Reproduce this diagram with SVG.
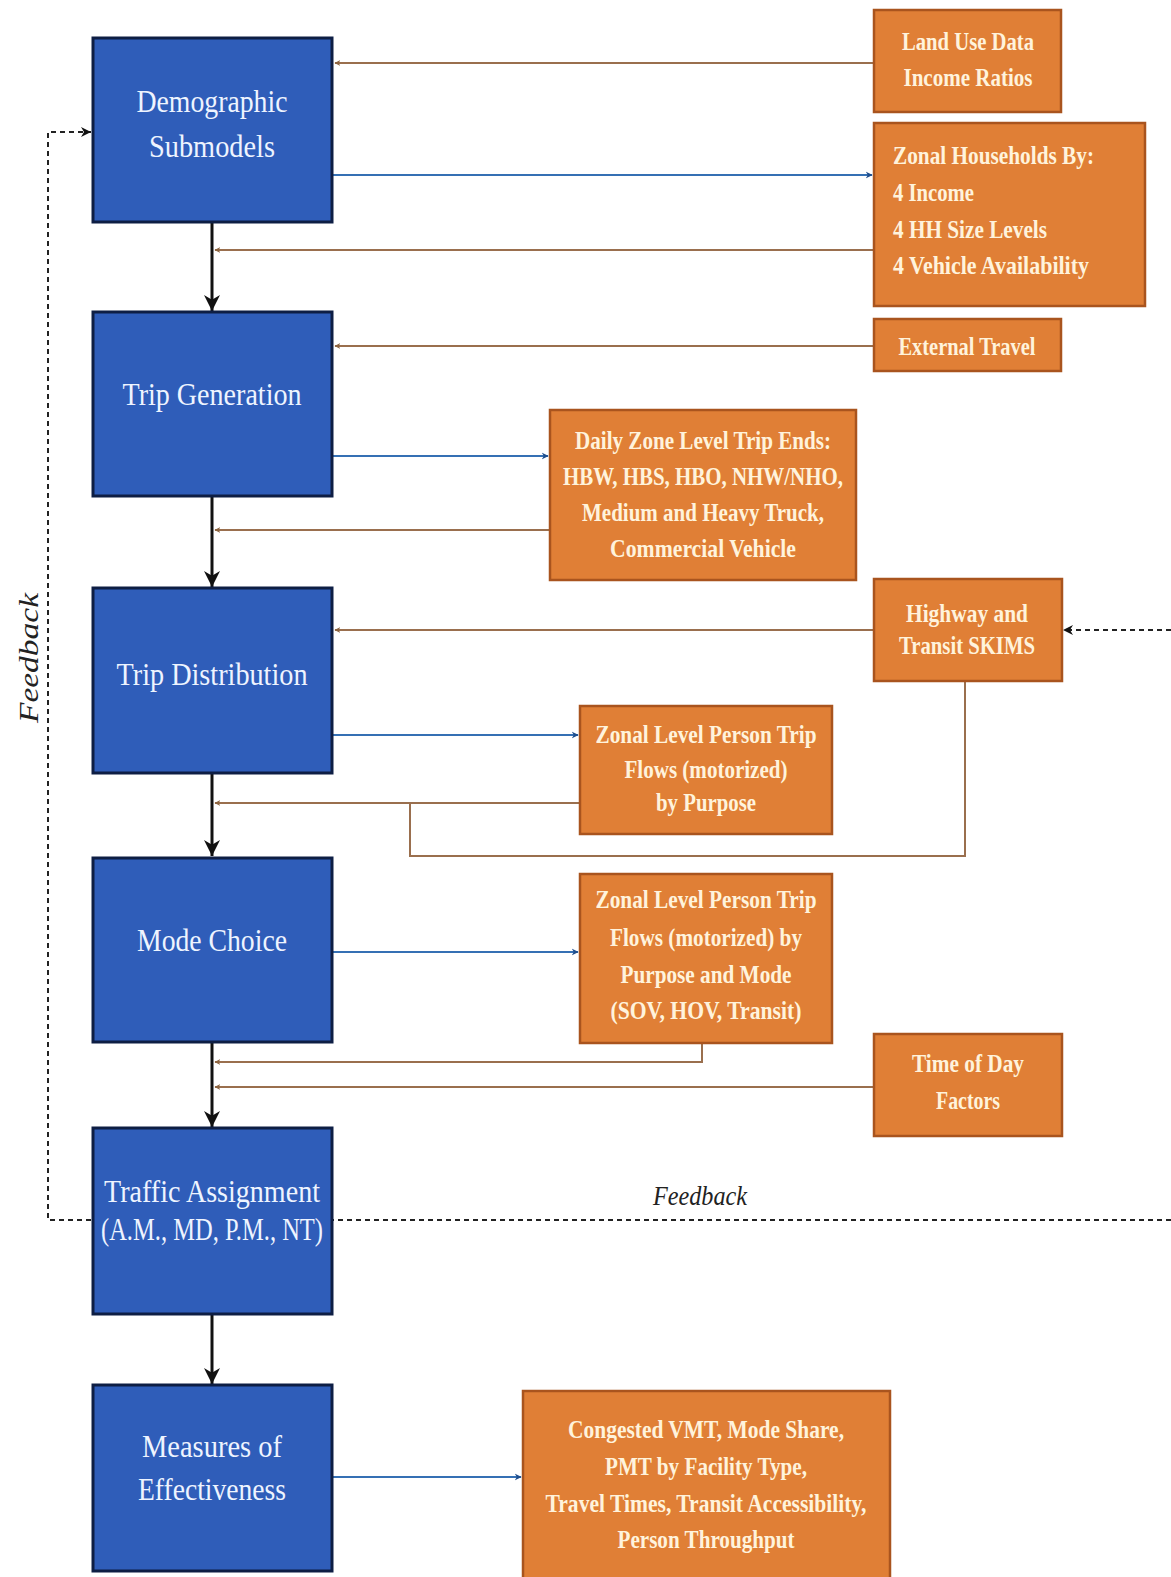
<svg xmlns="http://www.w3.org/2000/svg" width="1171" height="1577" viewBox="0 0 1171 1577">
<style>
.bx{fill:#2F5DB9;stroke:#0E1E44;stroke-width:3}
.ob{fill:#E07F36;stroke:#A9541E;stroke-width:2.5}
.bt{font-family:"Liberation Serif",serif;font-size:32px;fill:#EEF4FF;text-anchor:middle}
.ot{font-family:"Liberation Serif",serif;font-size:26px;font-weight:bold;fill:#FFF3DC;text-anchor:middle}
.ol{font-family:"Liberation Serif",serif;font-size:26px;font-weight:bold;fill:#FFF3DC}
.br{stroke:#9A6F4E;stroke-width:2;fill:none}
.bl{stroke:#3570B4;stroke-width:2;fill:none}
.bk{stroke:#111;stroke-width:3;fill:none}
.fd{stroke:#222;stroke-width:2;fill:none;stroke-dasharray:5,4}
.fb{font-family:"Liberation Serif",serif;font-style:italic;font-size:28px;fill:#222}
</style>
<defs>
<marker id="mbr" viewBox="0 0 10 10" refX="9" refY="5" markerWidth="6" markerHeight="6" orient="auto" markerUnits="userSpaceOnUse">
<path d="M0,0 L10,5 L0,10 L3,5 z" fill="#8C6440"/></marker>
<marker id="mbl" viewBox="0 0 10 10" refX="9" refY="5" markerWidth="7" markerHeight="8" orient="auto" markerUnits="userSpaceOnUse">
<path d="M0,0 L10,5 L0,10 L3,5 z" fill="#1F4E8C"/></marker>
<marker id="mbk" viewBox="0 0 10 10" refX="10" refY="5" markerWidth="18" markerHeight="16" orient="auto" markerUnits="userSpaceOnUse">
<path d="M0,0 L10,5 L0,10 L3,5 z" fill="#111"/></marker>
<marker id="mfd" viewBox="0 0 10 10" refX="10" refY="5" markerWidth="10" markerHeight="12" orient="auto" markerUnits="userSpaceOnUse">
<path d="M0,0 L10,5 L0,10 L3,5 z" fill="#111"/></marker>
</defs>
<rect width="1171" height="1577" fill="#fff"/>

<g id="connectors">
<path class="fd" d="M1171,1220 L48,1220 L48,132 L91,132" marker-end="url(#mfd)"/>
<path class="fd" d="M1171,630 L1063,630" marker-end="url(#mfd)"/>
<path class="bk" d="M212,223 L212,311" marker-end="url(#mbk)"/>
<path class="bk" d="M212,497 L212,587" marker-end="url(#mbk)"/>
<path class="bk" d="M212,774 L212,856" marker-end="url(#mbk)"/>
<path class="bk" d="M212,1043 L212,1127" marker-end="url(#mbk)"/>
<path class="bk" d="M212,1315 L212,1384" marker-end="url(#mbk)"/>
<path class="br" d="M874,63 L335,63" marker-end="url(#mbr)"/>
<path class="br" d="M874,250 L215,250" marker-end="url(#mbr)"/>
<path class="br" d="M874,346 L335,346" marker-end="url(#mbr)"/>
<path class="br" d="M550,530 L215,530" marker-end="url(#mbr)"/>
<path class="br" d="M874,630 L335,630" marker-end="url(#mbr)"/>
<path class="br" d="M580,803 L215,803" marker-end="url(#mbr)"/>
<path class="br" d="M965,681 L965,856 L410,856 L410,803"/>
<path class="br" d="M702,1043 L702,1062 L215,1062" marker-end="url(#mbr)"/>
<path class="br" d="M874,1087 L215,1087" marker-end="url(#mbr)"/>
<path class="bl" d="M333,175 L872,175" marker-end="url(#mbl)"/>
<path class="bl" d="M333,456 L548,456" marker-end="url(#mbl)"/>
<path class="bl" d="M333,735 L578,735" marker-end="url(#mbl)"/>
<path class="bl" d="M333,952 L578,952" marker-end="url(#mbl)"/>
<path class="bl" d="M333,1477 L521,1477" marker-end="url(#mbl)"/>
</g>

<g id="demographic">
<rect class="bx" x="93" y="38" width="239" height="184"/>
<text class="bt" x="212" y="112" textLength="151" lengthAdjust="spacingAndGlyphs">Demographic</text>
<text class="bt" x="212" y="157" textLength="126" lengthAdjust="spacingAndGlyphs">Submodels</text>
</g>
<g id="trip-generation">
<rect class="bx" x="93" y="312" width="239" height="184"/>
<text class="bt" x="212" y="405" textLength="179" lengthAdjust="spacingAndGlyphs">Trip Generation</text>
</g>
<g id="trip-distribution">
<rect class="bx" x="93" y="588" width="239" height="185"/>
<text class="bt" x="212" y="685" textLength="191" lengthAdjust="spacingAndGlyphs">Trip Distribution</text>
</g>
<g id="mode-choice">
<rect class="bx" x="93" y="858" width="239" height="184"/>
<text class="bt" x="212" y="951" textLength="150" lengthAdjust="spacingAndGlyphs">Mode Choice</text>
</g>
<g id="traffic-assignment">
<rect class="bx" x="93" y="1128" width="239" height="186"/>
<text class="bt" x="212" y="1202" textLength="216" lengthAdjust="spacingAndGlyphs">Traffic Assignment</text>
<text class="bt" x="212" y="1240" textLength="222" lengthAdjust="spacingAndGlyphs">(A.M., MD, P.M., NT)</text>
</g>
<g id="measures">
<rect class="bx" x="93" y="1385" width="239" height="186"/>
<text class="bt" x="212" y="1457" textLength="140" lengthAdjust="spacingAndGlyphs">Measures of</text>
<text class="bt" x="212" y="1500" textLength="148" lengthAdjust="spacingAndGlyphs">Effectiveness</text>
</g>

<g id="land-use">
<rect class="ob" x="874" y="10" width="187" height="102"/>
<text class="ot" x="968" y="50" textLength="132" lengthAdjust="spacingAndGlyphs">Land Use Data</text>
<text class="ot" x="968" y="86" textLength="129" lengthAdjust="spacingAndGlyphs">Income Ratios</text>
</g>
<g id="zonal-households">
<rect class="ob" x="874" y="123" width="271" height="183"/>
<text class="ol" x="893" y="164" textLength="201" lengthAdjust="spacingAndGlyphs">Zonal Households By:</text>
<text class="ol" x="893" y="201" textLength="81" lengthAdjust="spacingAndGlyphs">4 Income</text>
<text class="ol" x="893" y="238" textLength="154" lengthAdjust="spacingAndGlyphs">4 HH Size Levels</text>
<text class="ol" x="893" y="274" textLength="196" lengthAdjust="spacingAndGlyphs">4 Vehicle Availability</text>
</g>
<g id="external-travel">
<rect class="ob" x="874" y="319" width="187" height="52"/>
<text class="ot" x="967" y="355" textLength="137" lengthAdjust="spacingAndGlyphs">External Travel</text>
</g>
<g id="trip-ends">
<rect class="ob" x="550" y="410" width="306" height="170"/>
<text class="ot" x="703" y="449" textLength="256" lengthAdjust="spacingAndGlyphs">Daily Zone Level Trip Ends:</text>
<text class="ot" x="703" y="485" textLength="280" lengthAdjust="spacingAndGlyphs">HBW, HBS, HBO, NHW/NHO,</text>
<text class="ot" x="703" y="521" textLength="242" lengthAdjust="spacingAndGlyphs">Medium and Heavy Truck,</text>
<text class="ot" x="703" y="557" textLength="186" lengthAdjust="spacingAndGlyphs">Commercial Vehicle</text>
</g>
<g id="skims">
<rect class="ob" x="874" y="579" width="188" height="102"/>
<text class="ot" x="967" y="622" textLength="122" lengthAdjust="spacingAndGlyphs">Highway and</text>
<text class="ot" x="967" y="654" textLength="136" lengthAdjust="spacingAndGlyphs">Transit SKIMS</text>
</g>
<g id="person-trip-flows">
<rect class="ob" x="580" y="706" width="252" height="128"/>
<text class="ot" x="706" y="743" textLength="221" lengthAdjust="spacingAndGlyphs">Zonal Level Person Trip</text>
<text class="ot" x="706" y="778" textLength="163" lengthAdjust="spacingAndGlyphs">Flows (motorized)</text>
<text class="ot" x="706" y="811" textLength="100" lengthAdjust="spacingAndGlyphs">by Purpose</text>
</g>
<g id="person-trip-flows-mode">
<rect class="ob" x="580" y="874" width="252" height="169"/>
<text class="ot" x="706" y="908" textLength="221" lengthAdjust="spacingAndGlyphs">Zonal Level Person Trip</text>
<text class="ot" x="706" y="946" textLength="192" lengthAdjust="spacingAndGlyphs">Flows (motorized) by</text>
<text class="ot" x="706" y="983" textLength="171" lengthAdjust="spacingAndGlyphs">Purpose and Mode</text>
<text class="ot" x="706" y="1019" textLength="191" lengthAdjust="spacingAndGlyphs">(SOV, HOV, Transit)</text>
</g>
<g id="time-of-day">
<rect class="ob" x="874" y="1034" width="188" height="102"/>
<text class="ot" x="968" y="1072" textLength="112" lengthAdjust="spacingAndGlyphs">Time of Day</text>
<text class="ot" x="968" y="1109" textLength="64" lengthAdjust="spacingAndGlyphs">Factors</text>
</g>
<g id="moe-outputs">
<rect class="ob" x="523" y="1391" width="367" height="190"/>
<text class="ot" x="706" y="1438" textLength="276" lengthAdjust="spacingAndGlyphs">Congested VMT, Mode Share,</text>
<text class="ot" x="706" y="1475" textLength="202" lengthAdjust="spacingAndGlyphs">PMT by Facility Type,</text>
<text class="ot" x="706" y="1512" textLength="321" lengthAdjust="spacingAndGlyphs">Travel Times, Transit Accessibility,</text>
<text class="ot" x="706" y="1548" textLength="177" lengthAdjust="spacingAndGlyphs">Person Throughput</text>
</g>

<g id="labels">
<text class="fb" transform="translate(38,658) rotate(-90)" text-anchor="middle" textLength="130" lengthAdjust="spacingAndGlyphs">Feedback</text>
<text class="fb" x="700" y="1205" text-anchor="middle" textLength="94" lengthAdjust="spacingAndGlyphs">Feedback</text>
</g>
</svg>
